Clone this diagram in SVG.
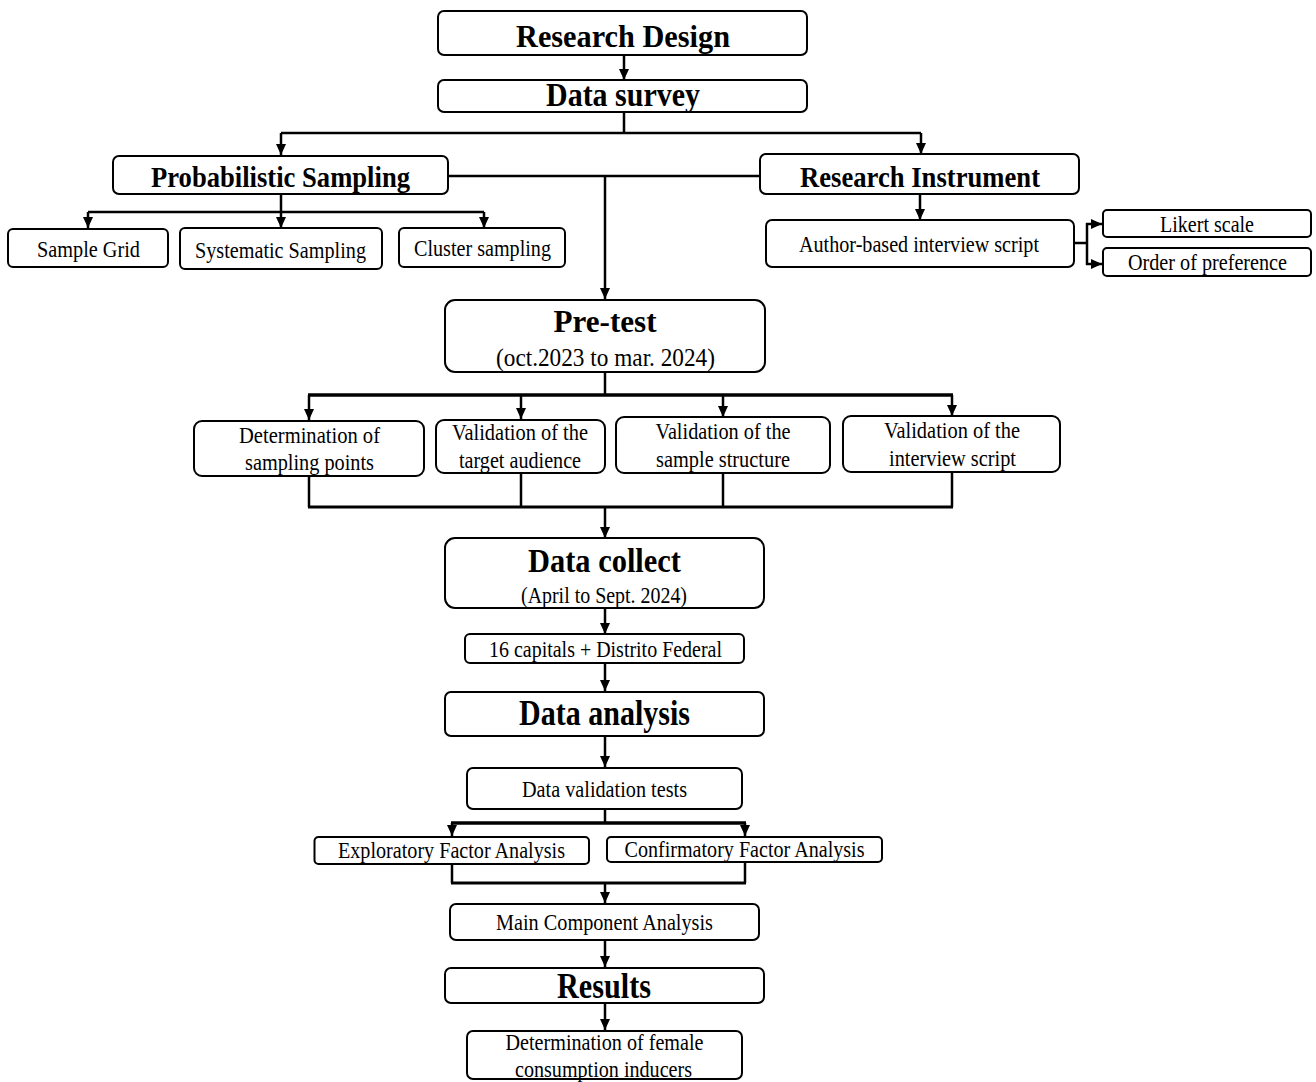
<svg xmlns="http://www.w3.org/2000/svg" width="1316" height="1082" viewBox="0 0 1316 1082">
<style>
.box{fill:#fff;stroke:#000;stroke-width:2}
.t{font-family:"Liberation Serif","Times New Roman",serif;font-size:24px;text-anchor:middle;fill:#000}
.b{font-weight:bold}
.c{fill:none;stroke:#000;stroke-width:2.5}
</style>
<defs>
<marker id="ah" markerUnits="userSpaceOnUse" markerWidth="12" markerHeight="12" refX="11" refY="5.5" orient="auto">
<path d="M0,0.5 L11,5.5 L0,10.5 Z" fill="#000"/>
</marker>
</defs>
<rect width="1316" height="1082" fill="#fff"/>
<g id="connectors">
<path class="c" d="M624,55 V80" marker-end="url(#ah)"/>
<path class="c" d="M624,112 V133 M281,133 H921"/>
<path class="c" d="M281,133 V155" marker-end="url(#ah)"/>
<path class="c" d="M921,133 V154" marker-end="url(#ah)"/>
<path class="c" d="M449,176 H760"/>
<path class="c" d="M605,176 V299" marker-end="url(#ah)"/>
<path class="c" d="M281,194 V212 M88,212 H484"/>
<path class="c" d="M88,212 V228" marker-end="url(#ah)"/>
<path class="c" d="M281,212 V228" marker-end="url(#ah)"/>
<path class="c" d="M484,212 V228" marker-end="url(#ah)"/>
<path class="c" d="M920,194 V220" marker-end="url(#ah)"/>
<path class="c" d="M1074,243 H1087 M1087,223 V265"/>
<path class="c" d="M1086,224 H1102" marker-end="url(#ah)"/>
<path class="c" d="M1086,264 H1102" marker-end="url(#ah)"/>
<path class="c" d="M605,372 V395"/>
<path class="c" style="stroke-width:3.5" d="M308,395 H953"/>
<path class="c" d="M309,395 V420" marker-end="url(#ah)"/>
<path class="c" d="M521,395 V419" marker-end="url(#ah)"/>
<path class="c" d="M723,395 V417" marker-end="url(#ah)"/>
<path class="c" d="M952,395 V416" marker-end="url(#ah)"/>
<path class="c" d="M309,476 V507 M521,473 V507 M723,473 V507 M952,472 V507"/>
<path class="c" style="stroke-width:3" d="M308,507 H953"/>
<path class="c" d="M605,507 V538" marker-end="url(#ah)"/>
<path class="c" d="M605,608 V634" marker-end="url(#ah)"/>
<path class="c" d="M605,663 V691" marker-end="url(#ah)"/>
<path class="c" d="M605,736 V767" marker-end="url(#ah)"/>
<path class="c" d="M605,809 V823"/>
<path class="c" style="stroke-width:3.5" d="M451,823 H746"/>
<path class="c" d="M452,823 V836" marker-end="url(#ah)"/>
<path class="c" d="M745,823 V836" marker-end="url(#ah)"/>
<path class="c" d="M452,864 V883 M745,862 V883"/>
<path class="c" style="stroke-width:3" d="M451,883 H746"/>
<path class="c" d="M605,883 V903" marker-end="url(#ah)"/>
<path class="c" d="M605,940 V967" marker-end="url(#ah)"/>
<path class="c" d="M605,1003 V1030" marker-end="url(#ah)"/>
</g>
<g id="research-design"><rect class="box" x="438" y="11" width="369" height="44" rx="6"/><text class="t b" x="623" y="47" style="font-size:32px" textLength="214" lengthAdjust="spacingAndGlyphs">Research Design</text></g>
<g id="data-survey"><rect class="box" x="438" y="80" width="369" height="32" rx="6"/><text class="t b" x="623" y="106" style="font-size:34px" textLength="154" lengthAdjust="spacingAndGlyphs">Data survey</text></g>
<g id="probabilistic-sampling"><rect class="box" x="113" y="156" width="335" height="38" rx="6"/><text class="t b" x="280.5" y="187" style="font-size:30px" textLength="259" lengthAdjust="spacingAndGlyphs">Probabilistic Sampling</text></g>
<g id="research-instrument"><rect class="box" x="760" y="154" width="319" height="40" rx="6"/><text class="t b" x="920" y="187" style="font-size:30px" textLength="240" lengthAdjust="spacingAndGlyphs">Research Instrument</text></g>
<g id="sample-grid"><rect class="box" x="8" y="229" width="160" height="38" rx="5"/><text class="t" x="88.5" y="257" textLength="103" lengthAdjust="spacingAndGlyphs">Sample Grid</text></g>
<g id="systematic-sampling"><rect class="box" x="180" y="228" width="202" height="41" rx="5"/><text class="t" x="280.5" y="258" textLength="171" lengthAdjust="spacingAndGlyphs">Systematic Sampling</text></g>
<g id="cluster-sampling"><rect class="box" x="399" y="228" width="166" height="39" rx="5"/><text class="t" x="482.5" y="256" textLength="137" lengthAdjust="spacingAndGlyphs">Cluster sampling</text></g>
<g id="author-script"><rect class="box" x="766" y="220" width="308" height="47" rx="6"/><text class="t" x="919" y="252" textLength="240" lengthAdjust="spacingAndGlyphs">Author-based interview script</text></g>
<g id="likert"><rect class="box" x="1103" y="210" width="208" height="27" rx="4"/><text class="t" x="1207" y="232" textLength="94" lengthAdjust="spacingAndGlyphs">Likert scale</text></g>
<g id="order-preference"><rect class="box" x="1103" y="248" width="208" height="28" rx="4"/><text class="t" x="1207.5" y="270" textLength="159" lengthAdjust="spacingAndGlyphs">Order of preference</text></g>
<g id="pre-test"><rect class="box" x="445" y="300" width="320" height="72" rx="10"/><text class="t b" x="605" y="332" style="font-size:32px" textLength="103" lengthAdjust="spacingAndGlyphs">Pre-test</text><text class="t" x="605.5" y="366" style="font-size:25px" textLength="219" lengthAdjust="spacingAndGlyphs">(oct.2023 to mar. 2024)</text></g>
<g id="sampling-points"><rect class="box" x="194" y="421" width="230" height="55" rx="8"/><text class="t" x="309.5" y="443" textLength="141" lengthAdjust="spacingAndGlyphs">Determination of</text><text class="t" x="309.5" y="470" textLength="129" lengthAdjust="spacingAndGlyphs">sampling points</text></g>
<g id="target-audience"><rect class="box" x="436" y="420" width="169" height="53" rx="8"/><text class="t" x="520" y="440" textLength="136" lengthAdjust="spacingAndGlyphs">Validation of the</text><text class="t" x="520" y="468" textLength="122" lengthAdjust="spacingAndGlyphs">target audience</text></g>
<g id="sample-structure"><rect class="box" x="616" y="417" width="214" height="56" rx="8"/><text class="t" x="723" y="439" textLength="135" lengthAdjust="spacingAndGlyphs">Validation of the</text><text class="t" x="723" y="467" textLength="134" lengthAdjust="spacingAndGlyphs">sample structure</text></g>
<g id="interview-script"><rect class="box" x="843" y="416" width="217" height="56" rx="8"/><text class="t" x="952" y="438" textLength="136" lengthAdjust="spacingAndGlyphs">Validation of the</text><text class="t" x="952.5" y="466" textLength="127" lengthAdjust="spacingAndGlyphs">interview script</text></g>
<g id="data-collect"><rect class="box" x="445" y="538" width="319" height="70" rx="10"/><text class="t b" x="604.5" y="572" style="font-size:33px" textLength="153" lengthAdjust="spacingAndGlyphs">Data collect</text><text class="t" x="604" y="603" textLength="166" lengthAdjust="spacingAndGlyphs">(April to Sept. 2024)</text></g>
<g id="capitals"><rect class="box" x="465" y="634" width="279" height="29" rx="5"/><text class="t" x="605.5" y="657" textLength="233" lengthAdjust="spacingAndGlyphs">16 capitals + Distrito Federal</text></g>
<g id="data-analysis"><rect class="box" x="445" y="692" width="319" height="44" rx="6"/><text class="t b" x="604.5" y="725" style="font-size:35px" textLength="171" lengthAdjust="spacingAndGlyphs">Data analysis</text></g>
<g id="data-validation"><rect class="box" x="467" y="768" width="275" height="41" rx="6"/><text class="t" x="604.5" y="797" textLength="165" lengthAdjust="spacingAndGlyphs">Data validation tests</text></g>
<g id="exploratory"><rect class="box" x="314.5" y="837" width="274.5" height="27" rx="4"/><text class="t" x="451.5" y="858" textLength="227" lengthAdjust="spacingAndGlyphs">Exploratory Factor Analysis</text></g>
<g id="confirmatory"><rect class="box" x="607" y="837" width="275" height="25" rx="4"/><text class="t" x="744.5" y="857" textLength="240" lengthAdjust="spacingAndGlyphs">Confirmatory Factor Analysis</text></g>
<g id="main-component"><rect class="box" x="450" y="904" width="309" height="36" rx="6"/><text class="t" x="604.5" y="930" textLength="217" lengthAdjust="spacingAndGlyphs">Main Component Analysis</text></g>
<g id="results"><rect class="box" x="445" y="968" width="319" height="35" rx="6"/><text class="t b" x="604" y="998" style="font-size:36px" textLength="94" lengthAdjust="spacingAndGlyphs">Results</text></g>
<g id="female-inducers"><rect class="box" x="467" y="1031" width="275" height="48" rx="6"/><text class="t" x="604.5" y="1050" textLength="198" lengthAdjust="spacingAndGlyphs">Determination of female</text><text class="t" x="603.5" y="1077" textLength="177" lengthAdjust="spacingAndGlyphs">consumption inducers</text></g>
</svg>
